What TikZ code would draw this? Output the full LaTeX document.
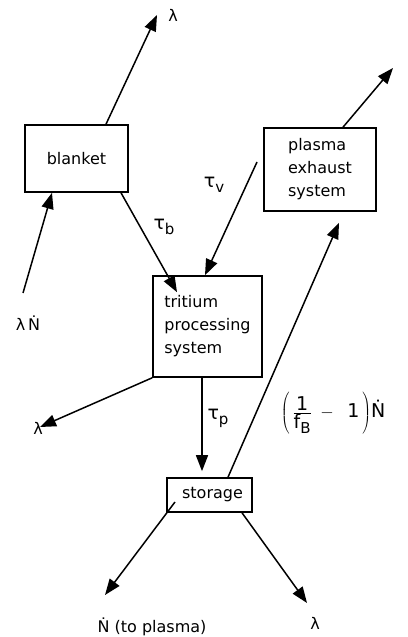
\documentclass[tikz,border=0pt]{standalone}
\usepackage{fontspec}
\setmainfont{DejaVu Sans}
\usetikzlibrary{arrows.meta}

\tikzset{
  unit/.style={rectangle, draw, line width=1.6pt, inner sep=0pt, align=left},
  arrow/.style={-{Triangle[length=16pt,width=12pt]}, line width=1.5pt},
  lbl/.style={inner sep=0pt},
  tau/.style={inner sep=0pt, font=\fontsize{19}{23}\selectfont},
}

\newcommand{\subs}[1]{\raisebox{-0.5ex}{\fontsize{15}{15}\selectfont #1}}

\begin{document}
\begin{tikzpicture}[x=1pt, y=1pt, font=\fontsize{16}{23}\selectfont]
  \useasboundingbox (0,0) rectangle (407,637);

  \node[unit, minimum width=103pt, minimum height=67pt]  (blanket) at (76.5,478.5) {blanket};
  \node[unit, minimum width=112pt, minimum height=83pt]  (exhaust) at (320,467.5)  {plasma\\exhaust\\system};
  \node[unit, minimum width=109pt, minimum height=101pt] (tritium) at (207.5,310.5) {tritium\\processing\\system};
  \node[unit, minimum width=85pt, minimum height=34pt]   (storage) at (209.5,142)  {\hspace*{6pt}storage};

  \coordinate (lamTop)   at (157,622);
  \coordinate (exTop)    at (393,569);
  \coordinate (feedIn)   at (23,344);
  \coordinate (ventIn)   at (257,475);
  \coordinate (lamLeft)  at (40,210);
  \coordinate (toPlasma) at (105,42);
  \coordinate (lamLow)   at (307,34);

  \node[lbl] (lamA)  at (173,622) {λ};
  \node[lbl] (feed)  at (28,314)  {λ\,Ṅ};
  \node[lbl] (lamB)  at (38,209)  {λ};
  \node[tau] (taub)  at (164,410) {τ\subs{b}};
  \node[tau] (tauv)  at (214,452) {τ\subs{v}};
  \node[tau] (taup)  at (218,219) {τ\subs{p}};
  \node[tau] (recyc) at (333,224) {$\left(\,\frac{\mbox{1}}{\mbox{f\subs{B}}}\;-\;\;\mbox{1}\,\right)$Ṅ};
  \node[lbl] (fuel)  at (152,10)  {Ṅ (to plasma)};
  \node[lbl] (lamC)  at (315,14)  {λ};

  \draw[arrow] ([xshift=29.5pt]blanket.north) -- (lamTop);
  \draw[arrow] ([xshift=23pt]exhaust.north)   -- (exTop);
  \draw[arrow] (feedIn) -- ([xshift=-24.5pt]blanket.south);
  \draw[arrow] ([xshift=44.5pt]blanket.south) -- ([xshift=-30.5pt,yshift=-17pt]tritium.north);
  \draw[arrow] (ventIn) -- ([xshift=-2.5pt]tritium.north);
  \draw[arrow] ([xshift=18.5pt]storage.north) -- ([xshift=19pt,yshift=-11pt]exhaust.south);
  \draw[arrow] (tritium.south west) -- (lamLeft);
  \draw[arrow] ([xshift=-5.5pt]tritium.south) -- ([xshift=-7.5pt,yshift=6pt]storage.north);
  \draw[arrow] ([xshift=-34.5pt,yshift=-7pt]storage.center) -- (toPlasma);
  \draw[arrow] ([xshift=32.5pt]storage.south) -- (lamLow);
\end{tikzpicture}
\end{document}
